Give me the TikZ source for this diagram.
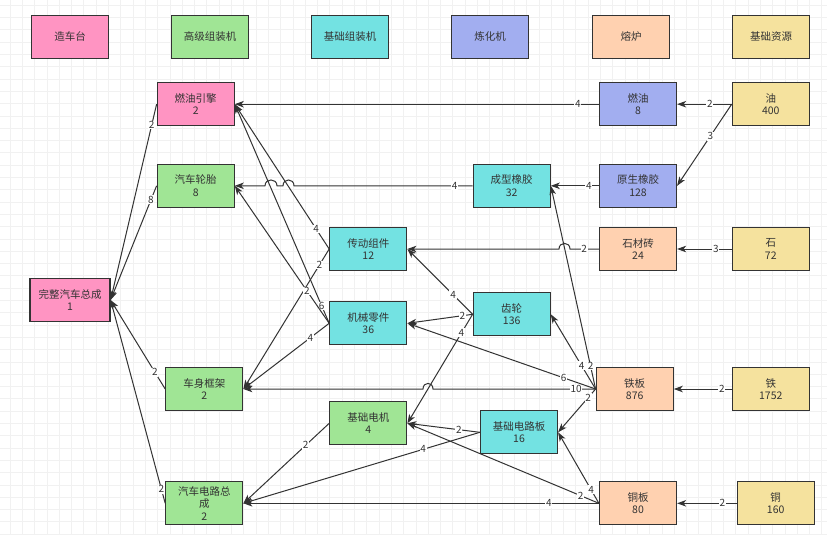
\documentclass[tikz,border=0pt]{standalone}
\usepackage{fontspec}
\setmainfont{Noto Sans CJK SC}
\usetikzlibrary{arrows.meta}
\definecolor{pinkc}{HTML}{FF94C2}
\definecolor{greenc}{HTML}{A0E595}
\definecolor{cyanc}{HTML}{73E2E2}
\definecolor{bluec}{HTML}{A2AEF0}
\definecolor{peachc}{HTML}{FFD1B0}
\definecolor{yellowc}{HTML}{F5E29E}
\definecolor{linegray}{HTML}{333333}
\definecolor{textgray}{HTML}{333333}
\definecolor{gridc}{HTML}{F1F1F1}

\begin{document}
\begin{tikzpicture}[x=1pt,y=-1pt,
    box/.style={draw=linegray, line width=1.2pt, minimum width=77pt, minimum height=43pt,
      align=center, inner sep=1pt, text=textgray, font=\fontsize{10.5}{12.5}\selectfont},
    flow/.style={draw=linegray, line width=1pt, -{Stealth[length=9pt,width=6.5pt,inset=2.5pt]}},
    num/.style={fill=white, inner sep=0.8pt, text=textgray, font=\fontsize{10}{11}\selectfont},
    gridl/.style={draw=gridc, line width=0.7pt}]
  \useasboundingbox (0,0) rectangle (827,535);
  \fill[white] (0,0) rectangle (827,535);
  \foreach \gx in {0,...,66} \draw[gridl] ({10+12.3*\gx},0) -- ({10+12.3*\gx},535);
  \foreach \gy in {0,...,43} \draw[gridl] (0,{5.2+12.3*\gy}) -- (827,{5.2+12.3*\gy});

  % machine headers
  \node[box, fill=pinkc] (hcar) at (70,36.7) {造车台};
  \node[box, fill=greenc] (hadv) at (210,36.7) {高级组装机};
  \node[box, fill=cyanc] (hbase) at (350,36.7) {基础组装机};
  \node[box, fill=bluec] (hrefine) at (490,36.7) {炼化机};
  \node[box, fill=peachc] (hfurn) at (631,36.7) {熔炉};
  \node[box, fill=yellowc] (hres) at (771,36.7) {基础资源};

  % items
  \node[box, fill=pinkc] (engine) at (195.7,104.2) {燃油引擎\\2};
  \node[box, fill=greenc] (tire) at (195.7,185.8) {汽车轮胎\\8};
  \node[box, fill=pinkc, minimum width=80pt] (car) at (70,300) {完整汽车总成\\1};
  \node[box, fill=greenc] (frame) at (204.3,389) {车身框架\\2};
  \node[box, fill=greenc] (circuit) at (204.3,503.3) {汽车电路总\\成\\2};
  \node[box, fill=cyanc] (trans) at (368.3,249) {传动组件\\12};
  \node[box, fill=cyanc] (mech) at (368.3,323.3) {机械零件\\36};
  \node[box, fill=greenc] (motor) at (368.3,423.3) {基础电机\\4};
  \node[box, fill=cyanc] (rubber) at (511.7,185.8) {成型橡胶\\32};
  \node[box, fill=cyanc] (gear) at (511.7,314.3) {齿轮\\136};
  \node[box, fill=cyanc] (board) at (519,432.3) {基础电路板\\16};
  \node[box, fill=bluec] (fuel) at (638,104.2) {燃油\\8};
  \node[box, fill=bluec] (rawrub) at (638,185.8) {原生橡胶\\128};
  \node[box, fill=peachc] (brick) at (638,249) {石材砖\\24};
  \node[box, fill=peachc] (iplate) at (634.7,389) {铁板\\876};
  \node[box, fill=peachc] (cplate) at (638,503.3) {铜板\\80};
  \node[box, fill=yellowc] (oil) at (770.8,104.2) {油\\400};
  \node[box, fill=yellowc] (stone) at (770.8,249) {石\\72};
  \node[box, fill=yellowc] (iron) at (770.8,389) {铁\\1752};
  \node[box, fill=yellowc] (copper) at (775.7,503.3) {铜\\160};

  % raw resources
  \draw[flow] (oil.west) -- node[num, pos=0.40] {2} (fuel.east);
  \draw[flow] (oil.west) -- node[num, pos=0.39] {3} (rawrub.east);
  \draw[flow] (stone.west) -- node[num, pos=0.29] {3} (brick.east);
  \draw[flow] (iron.west) -- node[num, pos=0.17] {2} (iplate.east);
  \draw[flow] (copper.west) -- node[num, pos=0.24] {2} (cplate.east);

  % smelted
  \draw[flow] (fuel.west) -- node[num, pos=0.058] {4} (engine.east);
  \draw[flow] (rawrub.west) -- node[num, pos=0.21] {4} (rubber.east);
  \draw[flow] (brick.west) -- node[num, pos=0.51] {2} (570,249)
    .. controls (570,241.5) and (559,241.5) .. (559,249) -- (trans.east);
  \draw[flow] (iplate.west) -- node[num, pos=0.31] {4} (gear.east);
  \draw[flow] (iplate.west) -- node[num, pos=0.113] {2} (rubber.east);
  \draw[flow] (iplate.west) -- node[num, pos=0.17] {6} (mech.east);
  \draw[flow] (iplate.west) -- node[num, pos=0.12] {10} (433,389)
    .. controls (433,381.5) and (423,381.5) .. (423,389) -- (frame.east);
  \draw[flow] (iplate.west) -- node[num, pos=0.2] {2} (board.east);
  \draw[flow] (cplate.west) -- node[num, pos=0.19] {4} (board.east);
  \draw[flow] (cplate.west) -- node[num, pos=0.095] {2} (motor.east);
  \draw[flow] (cplate.west) -- node[num, pos=0.141] {4} (circuit.east);

  % basic parts
  \draw[flow] (rubber.west) -- node[num, pos=0.10] {4} (294,185.8)
    .. controls (294,178) and (283,178) .. (283,185.8) -- (277,185.8)
    .. controls (277,178) and (265,178) .. (265,185.8) -- (tire.east);
  \draw[flow] (gear.west) -- node[num, pos=0.30] {4} (trans.east);
  \draw[flow] (gear.west) -- node[num, pos=0.155] {2} (mech.east);
  \draw[flow] (gear.west) -- node[num, pos=0.17] {4} (motor.east);
  \draw[flow] (board.west) -- node[num, pos=0.29] {2} (motor.east);
  \draw[flow] (board.west) -- node[num, pos=0.24] {4} (circuit.east);
  \draw[flow] (trans.west) -- node[num, pos=0.138] {4} (engine.east);
  \draw[flow] (trans.west) -- node[num, pos=0.114] {2} (frame.east);
  \draw[flow] (mech.west) -- node[num, pos=0.079] {6} (engine.east);
  \draw[flow] (mech.west) -- node[num, pos=0.235] {2} (tire.east);
  \draw[flow] (mech.west) -- node[num, pos=0.22] {4} (frame.east);
  \draw[flow] (motor.west) -- node[num, pos=0.275] {2} (circuit.east);

  % final assembly
  \draw[flow] (engine.west) -- node[num, pos=0.106] {2} (car.east);
  \draw[flow] (tire.west) -- node[num, pos=0.124] {8} (car.east);
  \draw[flow] (frame.west) -- node[num, pos=0.19] {2} (car.east);
  \draw[flow] (circuit.west) -- node[num, pos=0.07] {2} (car.east);
\end{tikzpicture}
\end{document}
